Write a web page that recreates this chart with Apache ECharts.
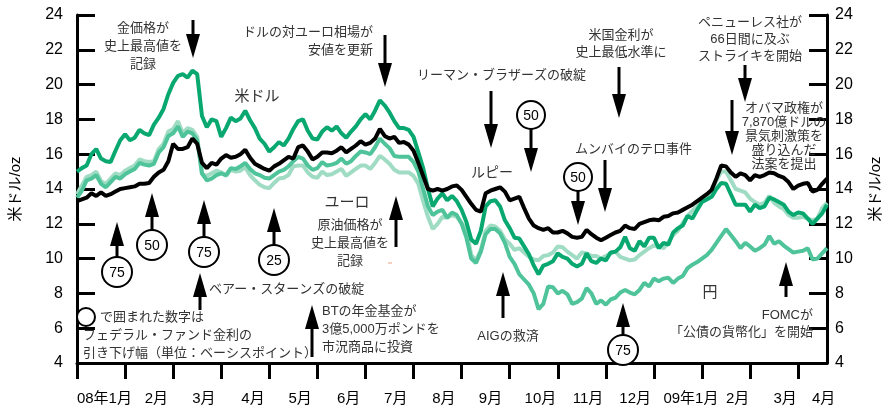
<!DOCTYPE html>
<html>
<head>
<meta charset="utf-8">
<script src="https://cdn.jsdelivr.net/npm/echarts@6/dist/echarts.min.js"></script>
<style>
  html, body { margin: 0; padding: 0; background: #fff; }
  #chart { width: 891px; height: 406px; }
</style>
</head>
<body>
<div id="chart"></div>
<script>
// month axis (0 = 2008-01), one sample every 0.1 month
const step = 0.1
const monthLabels = ['08年1月', '2月', '3月', '4月', '5月', '6月', '7月', '8月', '9月', '10月', '11月', '12月', '09年1月', '2月', '3月', '4月']
const monthLabelPos = [0.57, 1.65, 2.64, 3.66, 4.64, 5.65, 6.63, 7.63, 8.6, 9.64, 10.63, 11.61, 12.77, 13.74, 14.73, 15.53]
const monthTicks = [0, 1, 2, 3, 4, 5, 6, 7, 8, 9, 10, 11, 12, 13, 14, 15]

const usd = [15.0, 15.2, 15.35, 16.0, 16.3, 15.75, 15.6, 15.55, 16.2, 16.8,
  17.15, 16.8, 16.95, 17.4, 17.2, 17.1, 17.7, 18.1, 18.6, 19.45,
  20.1, 20.5, 20.6, 20.4, 20.8, 20.6, 18.2, 17.55, 18.0, 17.9,
  17.0, 17.5, 18.1, 17.9, 18.05, 18.5, 17.95, 17.5, 16.9, 16.6,
  16.15, 16.4, 16.7, 16.5, 16.9, 17.45, 17.9, 18.0, 17.35, 16.9,
  16.85, 17.3, 17.55, 17.35, 17.6, 17.2, 16.95, 17.3, 17.6, 18.0,
  18.3, 18.0, 18.5, 19.1, 18.8, 18.4, 17.9, 17.5, 17.5, 17.4,
  17.0, 16.1, 15.2, 14.0, 13.0, 13.45, 13.75, 13.35, 13.6, 13.3,
  12.8, 12.1, 11.1, 10.85, 11.6, 13.0, 13.3, 13.35, 13.0, 12.2,
  11.75, 11.2, 11.15, 10.7, 10.25, 9.6, 9.1, 9.6, 9.7, 9.85,
  10.3, 10.1, 10.0, 9.7, 9.55, 9.7, 10.3, 9.85, 9.75, 10.0,
  9.9, 10.35, 10.4, 10.65, 11.25, 10.6, 10.45, 11.0, 10.7, 11.2,
  11.2, 10.6, 10.9, 10.8, 11.5, 11.75, 11.9, 12.45, 12.3, 12.8,
  13.25, 13.4, 13.55, 14.0, 14.35, 14.3, 13.7, 13.1, 13.1, 13.1,
  12.7, 13.1, 12.9, 13.0, 13.5, 13.4, 13.25, 13.1, 12.7, 12.5,
  12.65, 12.6, 12.3, 12.0, 12.3, 12.6, 13.1]

const inr = [13.3, 13.4, 13.5, 13.75, 13.6, 13.8, 13.6, 13.7, 13.85, 14.0,
  14.05, 14.1, 14.15, 14.3, 14.3, 14.35, 14.7, 14.95, 15.1, 15.6,
  16.6, 16.3, 16.3, 16.4, 16.9, 16.6, 15.5, 15.2, 15.5, 15.4,
  15.75, 15.95, 15.8, 15.85, 16.0, 16.25, 15.8, 15.45, 15.3, 15.15,
  15.05, 15.3, 15.45, 15.65, 15.85, 15.75, 16.4, 16.5, 16.15, 15.7,
  15.85, 16.1, 16.1, 16.05, 16.2, 16.4, 16.1, 16.3, 16.5, 16.75,
  16.55, 16.65, 16.9, 17.45, 17.05, 16.9, 17.0, 16.65, 16.7, 16.55,
  16.2, 15.5, 14.75, 14.0, 13.9, 14.0, 13.9, 14.0, 14.15, 14.2,
  13.95, 13.55, 13.15, 12.8, 12.7, 13.75, 13.9, 14.0, 14.1, 13.85,
  13.35, 13.45, 13.55, 12.9, 12.3, 11.9, 11.75, 11.65, 11.75, 11.5,
  11.5, 11.6, 11.45, 11.25, 11.2, 11.25, 11.65, 11.4, 11.2, 11.05,
  11.2, 11.35, 11.5, 11.6, 11.9, 11.75, 11.7, 12.0, 12.1, 12.2,
  12.25, 12.2, 12.4, 12.45, 12.6, 12.65, 12.8, 12.95, 13.1, 13.3,
  13.5, 13.7, 13.95, 14.6, 15.35, 15.3, 14.95, 14.7, 14.9, 14.8,
  14.5, 14.8, 14.7, 14.8, 14.95, 14.9, 14.75, 14.65, 14.4, 14.0,
  14.2, 14.3, 14.35, 13.85, 13.95, 14.3, 14.6]

const eur = [13.7, 14.2, 14.7, 14.8, 15.0, 14.45, 14.3, 14.6, 14.9, 14.8,
  15.05, 15.2, 15.35, 15.7, 15.6, 15.55, 15.6, 16.3, 16.6, 17.3,
  17.45, 17.9, 17.2, 17.5, 17.4, 17.0, 14.85, 14.75, 14.9, 15.05,
  14.95, 14.75, 15.1, 15.0, 15.05, 15.25, 14.8, 14.5, 14.25, 14.1,
  14.05, 14.35, 14.6, 14.65, 14.8, 15.3, 15.35, 15.35, 14.95, 14.7,
  14.65, 15.0, 14.8, 14.85, 15.0, 15.15, 14.75, 14.95, 15.15, 15.35,
  15.35, 15.15, 15.5, 15.9, 15.7, 15.45, 15.1, 14.95, 14.95, 14.95,
  14.75, 14.3, 13.3, 12.4, 11.7, 12.0, 12.4, 12.35, 12.5, 12.4,
  12.05, 11.7, 10.2, 9.9, 10.5, 11.6, 11.9, 11.85, 11.6, 11.1,
  10.85, 10.5, 10.6, 10.35, 10.1, 9.95, 9.9, 10.15, 10.2, 10.35,
  10.7, 10.65, 10.4, 10.2, 10.0, 10.35, 10.3, 10.15, 10.15, 10.0,
  10.15, 10.3, 10.4, 10.1, 10.0, 9.9, 9.95, 10.2, 10.4, 10.6,
  10.75, 10.7, 10.6, 10.95, 11.35, 11.6, 12.05, 12.45, 12.75, 13.0,
  13.3, 13.6, 13.9, 14.5, 15.0, 15.0, 14.5, 14.0, 13.9, 13.8,
  13.45, 13.25, 13.1, 13.2, 13.6, 13.2, 13.0, 12.85, 12.5, 12.35,
  12.35, 12.4, 12.3, 12.2, 12.3, 12.9, 13.2]

const jpy = [13.5, 13.9, 14.5, 14.6, 14.8, 14.3, 14.1, 14.4, 14.7, 14.6,
  14.85, 15.0, 15.15, 15.5, 15.4, 15.35, 15.45, 16.1, 16.4, 17.05,
  17.2, 17.6, 17.0, 17.3, 17.2, 16.8, 14.9, 14.5, 14.6, 14.8,
  14.9, 14.8, 15.2, 15.15, 15.3, 15.5, 15.15, 14.9, 14.8, 14.65,
  14.6, 14.8, 15.0, 15.1, 15.3, 15.6, 15.85, 15.75, 15.35, 15.1,
  15.2, 15.55, 15.35, 15.4, 15.5, 15.75, 15.45, 15.6, 15.9, 16.15,
  16.1, 16.0, 16.4, 16.9, 16.6, 16.35, 15.9, 15.85, 15.85, 15.85,
  15.55, 15.0, 14.0, 13.0, 12.5, 12.7, 12.8, 12.35, 12.65, 12.5,
  12.0, 11.2, 10.0, 9.75, 10.4, 11.4, 11.7, 11.7, 11.45, 10.9,
  10.1, 9.7, 9.1, 8.8, 8.5, 8.0, 7.1, 7.4, 8.4, 8.35,
  8.0, 8.15, 7.95, 7.4, 7.5, 7.7, 8.3, 8.0, 7.4, 7.6,
  7.35, 7.65, 7.75, 8.05, 8.2, 8.05, 7.95, 8.2, 8.6, 8.4,
  8.85, 8.7, 8.85, 8.9, 8.6, 8.85, 9.0, 9.45, 9.65, 9.8,
  10.0, 10.2, 10.5, 10.9, 11.3, 11.7, 11.35, 11.0, 10.6, 10.9,
  10.7, 10.45, 10.6, 10.8, 11.3, 10.85, 11.0, 10.75, 10.55, 10.35,
  10.4, 10.45, 10.6, 9.95, 10.0, 10.3, 10.6]

const toXY = arr => arr.map((v, i) => [+(i * step).toFixed(2), v])

const jp = '"Liberation Sans", "Noto Sans CJK JP", sans-serif'
const num = 'Liberation Sans'

// 注記用の部品
function shaft (x, y1, y2) {
  return { type: 'line', z: 10, shape: { x1: x, y1: y1, x2: x, y2: y2 }, style: { stroke: '#000', lineWidth: 3 } }
}
function head (x, tip, dir) { // dir 1 = 下向き, -1 = 上向き
  const b = tip - dir * 24
  return { type: 'polygon', z: 10, shape: { points: [[x - 7, b], [x + 7, b], [x, tip]] }, style: { fill: '#000' } }
}
function arrowDown (x, top, tip) { return [shaft(x, top, tip - 20), head(x, tip, 1)] }
function arrowUp (x, bottom, tip) { return [shaft(x, bottom, tip + 20), head(x, tip, -1)] }
function ring (cx, cy, r, s) {
  const out = [{ type: 'circle', z: 11, shape: { cx: cx, cy: cy, r: r }, style: { fill: '#fff', stroke: '#000', lineWidth: 2 } }]
  if (s) {
    out.push({ type: 'text', z: 12, x: cx, y: cy + 1, style: { text: s, fontSize: 14, fontFamily: num, fill: '#000', align: 'center', verticalAlign: 'middle' } })
  }
  return out
}
function note (x, y, s, align, size, lh) {
  return {
    type: 'text', z: 12, x: x, y: y,
    style: { text: s, fontSize: size || 13, fontFamily: jp, fill: '#333', align: align || 'center', verticalAlign: 'middle', lineHeight: lh || 18 }
  }
}

const notes = [].concat(
  note(143, 46, '金価格が\n史上最高値を\n記録'),
  arrowDown(193, 20, 58),
  note(373, 41, 'ドルの対ユーロ相場が\n安値を更新', 'right'),
  arrowDown(385, 35, 87),
  note(417, 75, 'リーマン・ブラザーズの破綻', 'left'),
  arrowDown(491, 91, 148),
  ring(531, 115, 14, '50'),
  arrowDown(531, 129, 172),
  note(621, 44, '米国金利が\n史上最低水準に', 'center', 13, 17),
  arrowDown(619, 67, 118),
  note(692, 149, 'ムンバイのテロ事件', 'right'),
  arrowDown(605, 160, 212),
  arrowDown(578, 190, 225),
  ring(578, 177, 14, '50'),
  note(750, 39, 'ペニューレス社が\n66日間に及ぶ\nストライキを開始', 'center', 13, 17),
  arrowDown(745, 65, 102),
  note(784, 136, 'オバマ政権が\n7,870億ドルの\n景気刺激策を\n盛り込んだ\n法案を提出', 'center', 13, 14),
  arrowDown(732, 100, 155),
  note(257, 97, '米ドル', 'center', 15),
  note(492, 173, 'ルピー', 'center', 14),
  note(347, 203, 'ユーロ', 'center', 15),
  note(710, 293, '円', 'center', 15),
  arrowUp(117, 257, 222),
  ring(117, 272, 15, '75'),
  arrowUp(152, 231, 193),
  ring(152, 245, 15, '50'),
  arrowUp(204, 237, 200),
  ring(204, 252, 15, '75'),
  arrowUp(274, 245, 208),
  ring(274, 260, 15, '25'),
  arrowUp(200, 310, 273),
  note(209, 289, 'ベアー・スターンズの破綻', 'left'),
  arrowUp(312, 357, 305),
  note(322, 329, 'BTの年金基金が\n3億5,000万ポンドを\n市況商品に投資', 'left'),
  arrowUp(396, 247, 196),
  note(350, 243, '原油価格が\n史上最高値を\n記録'),
  { type: 'line', z: 10, shape: { x1: 388, y1: 263, x2: 392, y2: 263 }, style: { stroke: '#f0a080', lineWidth: 1 } },
  arrowUp(503, 318, 272),
  note(508, 336, 'AIGの救済'),
  arrowUp(623, 335, 303),
  ring(623, 350, 15, '75'),
  arrowUp(786, 297, 262),
  note(813, 324, 'FOMCが\n「公債の貨幣化」を開始', 'right', 13, 17),
  ring(86, 317, 9),
  note(100, 317, 'で囲まれた数字は', 'left'),
  note(83, 335, 'フェデラル・ファンド金利の', 'left'),
  note(83, 353, '引き下げ幅（単位：ベーシスポイント）', 'left')
)

function yAxisOf (pos, margin) {
  return {
    type: 'value', position: pos, min: 4, max: 24, interval: 2,
    name: '米ドル/oz', nameLocation: 'middle', nameRotate: 90, nameGap: pos === 'left' ? 54 : 41,
    nameTextStyle: { fontSize: 15, fontFamily: jp, color: '#000' },
    axisLine: { show: true, lineStyle: { color: '#000', width: 3 } },
    axisTick: { show: true, inside: true, length: 18, lineStyle: { color: '#000', width: 3 } },
    axisLabel: { margin: margin, fontSize: 16, fontFamily: num, color: '#000' },
    splitLine: { show: false }
  }
}

const lineSeries = (name, arr, color) => ({
  name: name, type: 'line', data: toXY(arr), showSymbol: false, symbol: 'none',
  lineStyle: { color: color, width: 4 }, itemStyle: { color: color }
})

const myChart = echarts.init(document.getElementById('chart'))
myChart.setOption({
  animation: false,
  grid: { left: 72, right: 52, top: 15, bottom: 40 },
  xAxis: {
    type: 'value', min: 0, max: 15.6,
    axisLine: { lineStyle: { color: '#000', width: 3 } },
    axisTick: { show: true, customValues: monthTicks, length: 16, lineStyle: { color: '#000', width: 3 } },
    axisLabel: {
      customValues: monthLabelPos,
      formatter: v => monthLabels[Math.floor(v)],
      margin: 28, fontSize: 15, fontFamily: jp, color: '#000'
    },
    splitLine: { show: false }
  },
  yAxis: [yAxisOf('left', 14), yAxisOf('right', 8)],
  series: [
    lineSeries('ユーロ', eur, '#9fdcc3'),
    lineSeries('米ドル', usd, '#08a870'),
    lineSeries('円', jpy, '#4fc49b'),
    lineSeries('ルピー', inr, '#000000')
  ],
  graphic: notes
})
</script>
</body>
</html>
